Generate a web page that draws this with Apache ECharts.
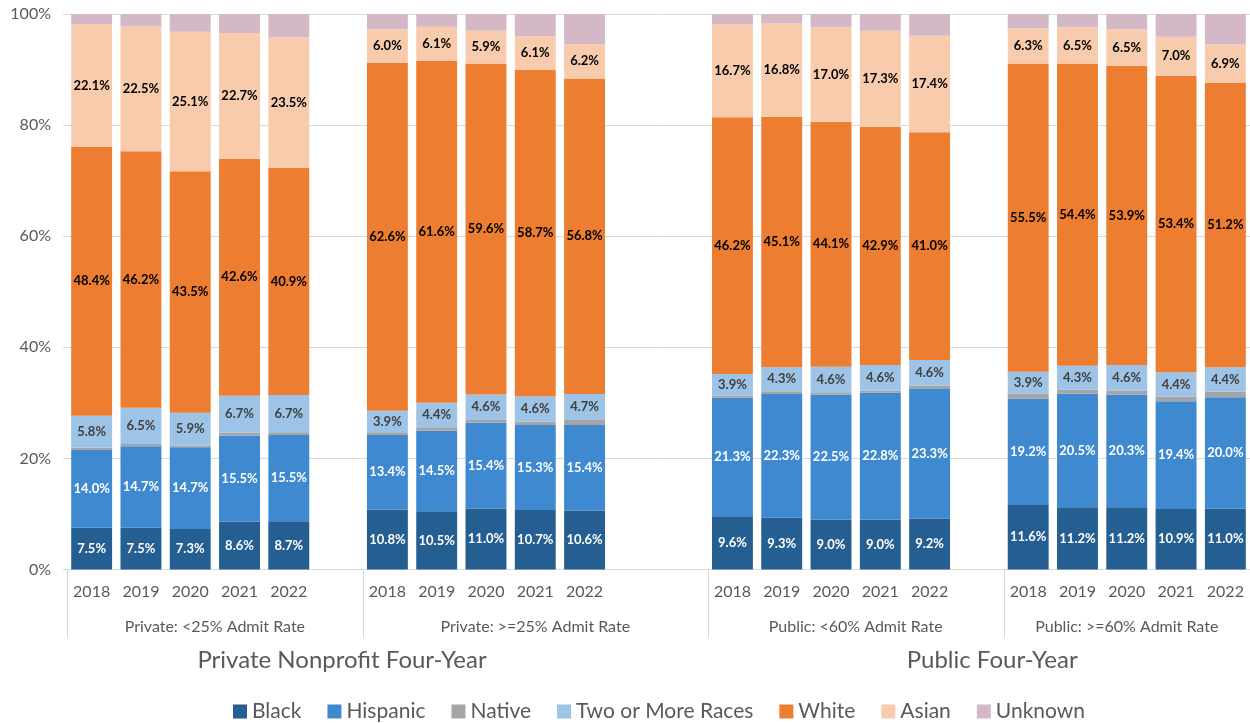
<!DOCTYPE html>
<html>
<head>
<meta charset="utf-8">
<script src="https://cdn.jsdelivr.net/npm/echarts@6/dist/echarts.min.js"></script>
<style>
html, body { margin: 0; padding: 0; background: #fff; }
#chart { width: 1250px; height: 723px; }
</style>
</head>
<body>
<div id="chart"></div>
<script>
const years = ['2018', '2019', '2020', '2021', '2022'];
const groups = ['Private: <25% Admit Rate', 'Private: >=25% Admit Rate', 'Public: <60% Admit Rate', 'Public: >=60% Admit Rate'];
const gapsAfter = [1, 2, 1, 0]; // empty slots after each group
const sectors = ['Private Nonprofit Four-Year', 'Public Four-Year'];
const sectorCenters = [5.58, 18.77]; // in slot units

// values per bar, group by group (5 years each)
const black    = [7.5, 7.5, 7.3, 8.6, 8.7,   10.8, 10.5, 11.0, 10.7, 10.6,   9.6, 9.3, 9.0, 9.0, 9.2,   11.6, 11.2, 11.2, 10.9, 11.0];
const hispanic = [14.0, 14.7, 14.7, 15.5, 15.5,   13.4, 14.5, 15.4, 15.3, 15.4,   21.3, 22.3, 22.5, 22.8, 23.3,   19.2, 20.5, 20.3, 19.4, 20.0];
const native   = [0.4, 0.4, 0.3, 0.5, 0.5,   0.5, 0.6, 0.5, 0.6, 0.9,   0.4, 0.5, 0.4, 0.4, 0.6,   0.9, 0.7, 0.7, 0.8, 1.0];
const twoMore  = [5.8, 6.5, 5.9, 6.7, 6.7,   3.9, 4.4, 4.6, 4.6, 4.7,   3.9, 4.3, 4.6, 4.6, 4.6,   3.9, 4.3, 4.6, 4.4, 4.4];
const white    = [48.4, 46.2, 43.5, 42.6, 40.9,   62.6, 61.6, 59.6, 58.7, 56.8,   46.2, 45.1, 44.1, 42.9, 41.0,   55.5, 54.4, 53.9, 53.4, 51.2];
const asian    = [22.1, 22.5, 25.1, 22.7, 23.5,   6.0, 6.1, 5.9, 6.1, 6.2,   16.7, 16.8, 17.0, 17.3, 17.4,   6.3, 6.5, 6.5, 7.0, 6.9];
const unknown  = [1.8, 2.2, 3.2, 3.4, 4.2,   2.8, 2.3, 3.0, 4.0, 5.4,   1.9, 1.7, 2.4, 3.0, 3.9,   2.6, 2.4, 2.8, 4.1, 5.5];

const races = ['Black', 'Hispanic', 'Native', 'Two or More Races', 'White', 'Asian', 'Unknown'];
const raceValues = [black, hispanic, native, twoMore, white, asian, unknown];
const colors = ['#255E91', '#3F89D0', '#A5A5A5', '#9DC3E6', '#ED7D31', '#F8CBAD', '#D5B8C6'];
const labelColors = ['#ffffff', '#ffffff', null, '#404040', '#000000', '#000000', null];

const FONT = 'Lato, "Noto Sans", sans-serif';

// build the category axis with empty slots between groups
const categories = [];
const slotOf = []; // slot index of each bar
const groupStart = [];
groups.forEach((g, gi) => {
  groupStart.push(categories.length);
  years.forEach(y => { slotOf.push(categories.length); categories.push(y); });
  for (let k = 0; k < gapsAfter[gi]; k++) categories.push('');
});
groupStart.push(categories.length);

function spread(vals) {
  const out = categories.map(() => null);
  vals.forEach((v, i) => { out[slotOf[i]] = v; });
  return out;
}

const series = races.map((name, i) => ({
  name: name,
  type: 'bar',
  stack: 'total',
  barWidth: '83%',
  itemStyle: { color: colors[i] },
  data: spread(raceValues[i]),
  label: {
    show: labelColors[i] !== null,
    position: 'inside',
    color: labelColors[i] || '#000',
    fontFamily: FONT,
    fontWeight: 'bold',
    fontSize: 13,
    formatter: p => (p.value == null ? '' : p.value.toFixed(1) + '%')
  }
}));

const chart = echarts.init(document.getElementById('chart'));
chart.setOption({
  animation: false,
  color: colors,
  grid: { left: 67, right: 0, top: 14, bottom: 153.5, containLabel: false },
  legend: {
    data: races,
    left: 228,
    top: 696,
    itemWidth: 14,
    itemHeight: 14,
    itemGap: 26,
    icon: 'rect',
    textStyle: { fontFamily: FONT, fontSize: 21, color: '#595959' }
  },
  xAxis: {
    type: 'category',
    data: categories,
    axisLine: { lineStyle: { color: '#d9d9d9' } },
    axisTick: { show: false },
    axisLabel: { interval: 0, margin: 14, fontFamily: FONT, fontSize: 16, color: '#595959' }
  },
  yAxis: {
    type: 'value',
    min: 0,
    max: 100,
    interval: 20,
    axisLine: { show: false },
    axisTick: { show: true, length: 4, lineStyle: { color: '#d9d9d9' } },
    splitLine: { lineStyle: { color: '#d9d9d9' } },
    axisLabel: { formatter: '{value}%', margin: 16, fontFamily: FONT, fontSize: 16, color: '#595959' }
  },
  series: series
});

// group separators and multi-level labels
const c0 = chart.convertToPixel({ xAxisIndex: 0 }, 0);
const c1 = chart.convertToPixel({ xAxisIndex: 0 }, 1);
const band = c1 - c0;
const left0 = c0 - band / 2;
const yBase = chart.convertToPixel({ yAxisIndex: 0 }, 0);
const slotX = s => left0 + s * band;

const graphics = [];
groupStart.slice(0, groups.length).forEach(s => {
  const x = Math.round(slotX(s)) + 0.5;
  graphics.push({
    type: 'line',
    shape: { x1: x, y1: yBase, x2: x, y2: yBase + 68 },
    style: { stroke: '#d9d9d9', lineWidth: 1 },
    silent: true
  });
});
groups.forEach((g, gi) => {
  graphics.push({
    type: 'text',
    x: slotX((groupStart[gi] + groupStart[gi + 1]) / 2),
    y: yBase + 57,
    style: {
      text: g, fill: '#595959', font: '16px ' + FONT,
      textAlign: 'center', textVerticalAlign: 'middle'
    },
    silent: true
  });
});
sectors.forEach((s, si) => {
  graphics.push({
    type: 'text',
    x: slotX(sectorCenters[si]),
    y: yBase + 91,
    style: {
      text: s, fill: '#595959', font: '24px ' + FONT,
      textAlign: 'center', textVerticalAlign: 'middle'
    },
    silent: true
  });
});
chart.setOption({ graphic: graphics });
</script>
</body>
</html>
